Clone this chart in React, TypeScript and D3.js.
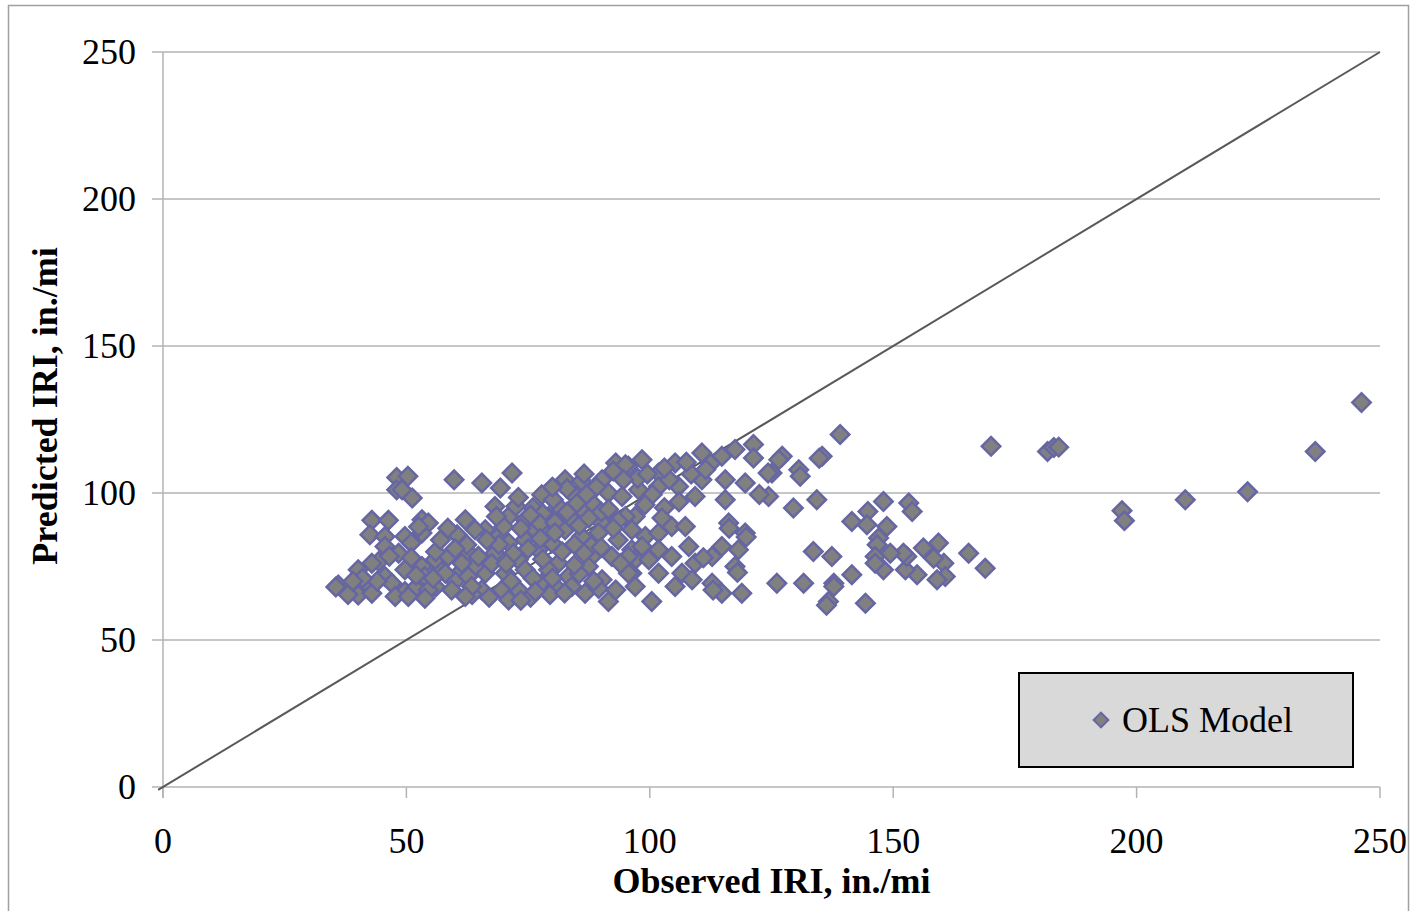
import React from "react";
import * as d3 from "d3";

// Observed IRI (x) vs Predicted IRI (y), OLS model
const olsPoints: [number, number][] = [
  // sparse right part
  [246.2, 130.8], [236.7, 114.1], [222.8, 100.4], [210.0, 97.7], [197.0, 94.0], [197.5, 90.6],
  [181.7, 114.1], [183.0, 115.5], [184.0, 115.6], [170.1, 115.9], [168.9, 74.4], [165.5, 79.5],
  [160.4, 76.1], [160.7, 71.6], [159.0, 70.5], [159.3, 83.0], [158.3, 77.8], [156.2, 81.3],
  [154.9, 72.2], [152.5, 73.9], [152.8, 78.4], [153.2, 96.6], [153.9, 93.7], [152.1, 79.5],
  [149.4, 79.5], [148.0, 97.1], [148.7, 88.6], [148.0, 73.9], [147.0, 84.7], [146.7, 82.4],
  [146.3, 78.4], [146.3, 76.1], [144.8, 93.7], [144.6, 89.2], [144.3, 62.5], [141.5, 90.3],
  [141.5, 72.2], [139.1, 119.9], [137.4, 78.4], [137.8, 69.3], [137.8, 68.2], [136.7, 63.1],
  [136.3, 61.8], [135.4, 112.5], [134.8, 111.8], [134.3, 97.7], [133.6, 80.1], [131.6, 69.3],
  [130.6, 107.9], [130.9, 105.7], [129.5, 94.9], [127.2, 112.5], [126.5, 111.3], [126.1, 69.3],
  [125.1, 106.8], [124.3, 106.8], [124.4, 98.8], [122.5, 99.5],
  // middle
  [98.4, 111.3], [101.8, 106.8], [105.2, 110.2], [110.7, 113.6], [114.8, 112.5], [117.5, 114.8],
  [121.3, 116.5], [121.3, 111.9], [95.6, 109.1], [101.8, 102.2], [105.9, 102.2], [110.7, 104.5],
  [115.5, 104.5], [119.6, 103.4], [97.7, 101.1], [109.3, 98.8], [115.5, 97.7], [97.0, 92.0],
  [96.3, 87.5], [99.1, 85.2], [101.8, 86.4], [104.5, 88.6], [107.3, 88.6], [116.2, 89.8],
  [119.6, 86.4], [96.3, 80.7], [98.4, 81.8], [101.8, 80.7], [108.0, 81.8], [114.8, 81.8],
  [118.2, 80.7], [97.0, 77.3], [99.8, 77.3], [104.5, 78.4], [112.8, 78.4], [96.3, 72.7],
  [101.8, 72.7], [106.6, 72.7], [109.3, 76.1], [117.5, 75.0], [97.0, 68.2], [105.2, 68.2],
  [108.7, 70.5], [112.8, 69.3], [114.8, 65.9], [118.9, 65.9], [100.4, 63.1], [119.8, 85.0],
  [118.0, 73.0], [116.3, 88.0], [113.0, 67.0], [111.0, 78.0],
  [104.0, 104.5], [108.5, 106.5], [112.5, 110.0], [100.5, 99.5], [103.0, 95.0], [106.0, 97.0],
  [99.0, 96.0], [102.5, 91.5], [97.5, 105.0],
  // dense center
  [65.5, 103.4], [71.7, 106.8], [69.3, 101.7], [68.2, 95.4], [77.8, 99.4], [82.6, 104.5],
  [86.0, 104.0], [90.2, 104.5], [93.0, 110.2], [95.0, 109.6], [94.6, 104.5], [80.2, 97.7],
  [81.9, 94.3], [84.7, 98.8], [91.5, 100.0], [94.3, 98.8], [95.0, 92.0], [71.0, 92.0],
  [74.4, 90.9], [79.2, 92.0], [86.7, 93.2], [90.2, 89.8], [66.2, 87.5], [68.9, 85.2],
  [76.4, 87.5], [82.6, 87.5], [86.0, 85.2], [71.0, 83.0], [74.4, 84.1], [79.9, 83.0],
  [64.8, 78.4], [68.2, 79.5], [73.0, 77.3], [77.1, 80.7], [81.2, 76.1], [88.1, 78.4],
  [92.2, 78.4], [95.6, 78.4], [66.2, 72.7], [70.3, 72.7], [74.4, 73.9], [79.2, 73.9],
  [83.3, 71.6], [87.4, 75.0], [90.2, 70.5], [95.6, 72.7], [65.5, 67.0], [69.6, 67.0],
  [73.0, 67.0], [77.8, 69.3], [80.6, 68.2], [84.0, 68.2], [86.7, 65.9], [91.5, 63.1],
  [71.0, 63.6], [88.5, 96.0], [92.5, 107.5], [89.0, 102.0], [99.5, 106.5], [103.0, 108.5],
  [107.5, 110.5], [111.5, 108.0], [76.0, 95.0], [73.5, 88.0], [78.5, 86.0], [84.0, 91.0],
  [88.0, 82.0], [93.5, 84.0], [62.5, 80.0], [67.5, 76.0], [71.5, 70.0], [76.0, 71.0],
  [82.0, 80.0], [85.5, 72.5], [89.5, 67.5], [93.0, 67.0], [61.0, 73.0], [63.5, 65.5],
  [67.0, 64.5], [75.5, 64.5], [79.5, 65.5], [82.5, 66.0], [60.0, 70.0], [57.0, 74.0],
  [56.0, 68.0], [85.0, 96.5], [90.0, 93.5], [78.0, 93.0], [72.5, 95.5], [70.0, 88.5],
  [75.5, 92.5], [77.5, 89.5], [80.5, 90.0], [83.0, 93.5], [85.5, 89.0], [87.5, 91.5],
  [89.5, 86.5], [91.5, 94.5], [93.5, 90.5], [75.0, 81.0], [77.5, 84.5], [80.5, 86.5],
  [84.5, 82.5], [86.5, 79.5], [90.0, 81.5], [92.5, 88.0], [94.0, 76.0], [72.0, 79.5],
  [70.5, 76.0], [69.0, 82.5], [66.5, 84.0], [64.0, 75.0], [87.0, 99.5], [83.0, 101.5],
  [80.0, 102.0], [86.5, 106.5], [73.0, 98.5], [68.5, 92.0], [88.5, 70.0], [84.5, 75.5],
  [78.0, 77.5], [80.0, 71.0], [76.5, 66.5], [73.5, 63.5],
  // left part
  [48.0, 105.3], [50.3, 105.7], [48.0, 101.1], [51.2, 98.3], [49.1, 101.1], [59.8, 104.5],
  [42.9, 90.7], [46.3, 90.7], [42.5, 85.8], [45.6, 85.2], [45.6, 81.8], [49.7, 85.2],
  [53.2, 90.9], [54.5, 89.8], [53.2, 86.4], [62.1, 90.9], [60.4, 85.8], [62.4, 82.4],
  [48.4, 79.5], [44.3, 76.7], [42.9, 76.1], [40.1, 73.9], [36.0, 68.7], [37.7, 67.0],
  [40.1, 65.3], [42.2, 68.7], [42.9, 65.9], [45.6, 71.6], [47.0, 69.3], [49.7, 73.9],
  [49.7, 66.5], [47.7, 64.8], [53.2, 75.0], [53.8, 71.6], [51.8, 67.6], [54.5, 67.0],
  [55.9, 77.3], [58.6, 78.4], [58.0, 72.7], [59.3, 67.0], [61.4, 76.1], [62.7, 71.6],
  [63.4, 68.2], [62.1, 64.8], [64.1, 87.5], [64.8, 78.4], [50.4, 64.8], [53.8, 64.2],
  [38.0, 65.5], [35.5, 68.0], [52.5, 88.5], [51.0, 83.0], [56.0, 80.0],
  [60.0, 81.0], [58.5, 88.0], [57.0, 84.0], [55.5, 71.0], [52.0, 72.0], [51.0, 78.0],
  [46.5, 78.5], [44.0, 70.0], [41.0, 71.0], [39.0, 70.0],
];

const xTicks = [0, 50, 100, 150, 200, 250];
const yTicks = [0, 50, 100, 150, 200, 250];
const xTitle = "Observed IRI, in./mi";
const yTitle = "Predicted IRI, in./mi";
const legendLabel = "OLS Model";

const W = 1413;
const H = 911;
const left = 163;
const right = 1380;
const top = 52;
const bottom = 787;
const FONT = "'Liberation Serif', 'Times New Roman', serif";

export default function App() {
  const x = d3.scaleLinear().domain([0, 250]).range([left, right]);
  const y = d3.scaleLinear().domain([0, 250]).range([bottom, top]);
  const diamond = d3.symbol().type(d3.symbolSquare).size(170)() as string;
  const markerFill = "#808080";
  const markerStroke = "#6666a3";
  const gridColor = "#b3b3b3";

  return (
    <svg
      width={W}
      height={H}
      style={{ position: "absolute", left: 0, top: 0, background: "#fff" }}
    >
      {/* chart frame */}
      <rect x={8.5} y={5.5} width={1400} height={930} fill="#fff" stroke="#a0a0a0" strokeWidth={1.5} />

      {/* horizontal gridlines + y ticks */}
      {yTicks.map((t) => (
        <line key={"g" + t} x1={left - 11} x2={right} y1={y(t)} y2={y(t)} stroke={gridColor} strokeWidth={1.5} />
      ))}
      {/* y axis line */}
      <line x1={left} x2={left} y1={top} y2={bottom + 11} stroke={gridColor} strokeWidth={1.5} />
      {/* x ticks */}
      {xTicks.map((t) => (
        <line key={"xt" + t} x1={x(t)} x2={x(t)} y1={bottom} y2={bottom + 11} stroke={gridColor} strokeWidth={1.5} />
      ))}

      {/* y tick labels */}
      {yTicks.map((t) => (
        <text key={"yl" + t} x={136} y={y(t) + 12} textAnchor="end" fontFamily={FONT} fontSize={36} fill="#000">
          {t}
        </text>
      ))}
      {/* x tick labels */}
      {xTicks.map((t) => (
        <text key={"xl" + t} x={x(t)} y={853} textAnchor="middle" fontFamily={FONT} fontSize={36} fill="#000">
          {t}
        </text>
      ))}

      {/* 1:1 line */}
      <line x1={x(-1)} y1={y(-1)} x2={x(250)} y2={y(250)} stroke="#595959" strokeWidth={2} />

      {/* points */}
      {olsPoints.map(([ox, py], i) => (
        <path
          key={i}
          d={diamond}
          transform={`translate(${x(ox)},${y(py)}) rotate(45)`}
          fill={markerFill}
          stroke={markerStroke}
          strokeWidth={2.5}
        />
      ))}

      {/* axis titles */}
      <text x={(left + right) / 2} y={893} textAnchor="middle" fontFamily={FONT} fontSize={36} fontWeight="bold" fill="#000">
        {xTitle}
      </text>
      <text
        transform={`translate(57,406) rotate(-90)`}
        textAnchor="middle"
        fontFamily={FONT}
        fontSize={36}
        fontWeight="bold"
        fill="#000"
      >
        {yTitle}
      </text>

      {/* legend */}
      <rect x={1019} y={673} width={334} height={94} fill="#d9d9d9" stroke="#000" strokeWidth={2} />
      <path d={diamond} transform="translate(1101,720) rotate(45) scale(0.8)" fill={markerFill} stroke={markerStroke} strokeWidth={2.5} />
      <text x={1122} y={732} fontFamily={FONT} fontSize={36} fill="#000">
        {legendLabel}
      </text>
    </svg>
  );
}
